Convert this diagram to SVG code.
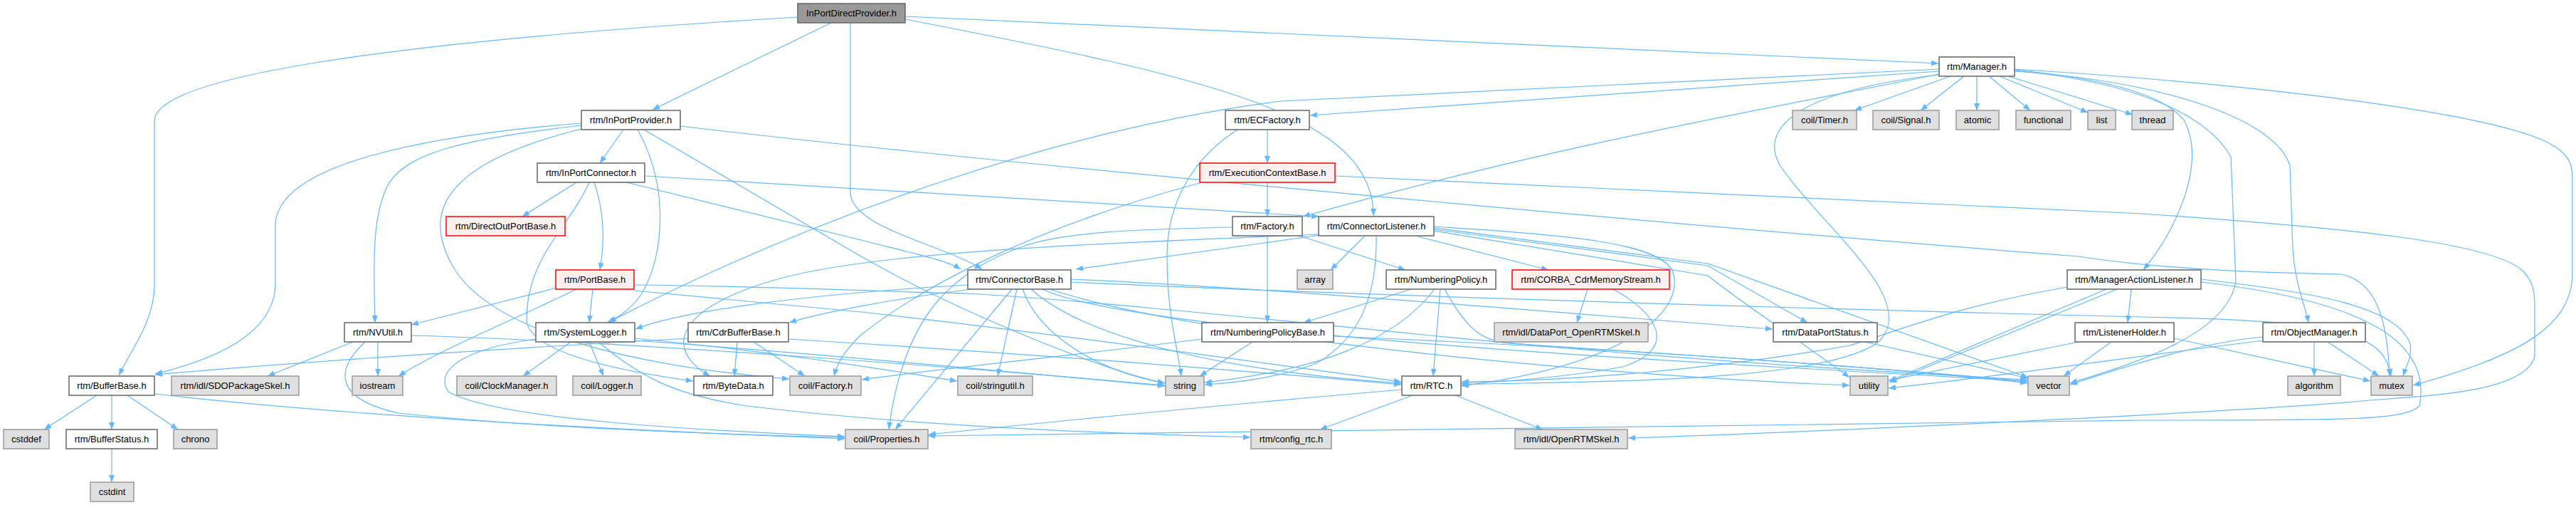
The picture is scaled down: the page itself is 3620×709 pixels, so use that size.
<svg xmlns="http://www.w3.org/2000/svg" width="3620" height="709" viewBox="0 0 3620 709">
<style>
.n rect{fill:#ffffff;stroke:#666666;stroke-width:1.5}
.g rect{fill:#e0e0e0;stroke:#999999;stroke-width:1.5}
.r rect{fill:#fff0f0;stroke:#ff0000;stroke-width:1.5}
.root rect{fill:#999999;stroke:#666666;stroke-width:1.5}
text{font-family:"Liberation Sans",Arial,sans-serif;font-size:13px;text-anchor:middle;fill:#000}
#edges path{fill:none;stroke:#63b8ff;stroke-width:1.2;marker-end:url(#ah)}
</style>
<defs>
<marker id="ah" viewBox="0 0 10 8" refX="10" refY="4" markerWidth="11" markerHeight="8" markerUnits="userSpaceOnUse" orient="auto"><path d="M0,0 L10,4 L0,8 z" fill="#63b8ff"/></marker>
</defs>
<rect width="3620" height="709" fill="#ffffff"/>
<g id="edges">
<path d="M1121,24 C520,60 217,110 217,170 L217,400 C217,450 185,490 167,527"/>
<path d="M1168,32 L917,154"/>
<path d="M1195,32 L1195,270 C1195,320 1330,345 1380,378"/>
<path d="M1272,27 C1700,110 1930,160 1930,303"/>
<path d="M1272,23 L2724,89"/>
<path d="M2725,100 L1841,162"/>
<path d="M2725,104 C2500,150 2200,200 1831,304"/>
<path d="M2725,97 L1800,142 C1500,180 1150,300 856,452"/>
<path d="M2725,105 C2550,125 2470,170 2500,230 C2560,320 2700,420 2640,480 C2560,540 2200,535 2054,540"/>
<path d="M2741,107 L2606,155"/>
<path d="M2760,107 L2699,155"/>
<path d="M2778,107 L2778,155"/>
<path d="M2795,107 L2853,155"/>
<path d="M2810,107 L2934,158"/>
<path d="M2822,107 L2997,161"/>
<path d="M2831,98 C2950,110 3040,130 3070,170 C3100,230 3060,320 3012,379"/>
<path d="M2831,100 C3050,115 3200,170 3218,233 L3222,350 C3225,400 3240,430 3244,453"/>
<path d="M2831,97 C3200,120 3500,160 3580,200 C3610,215 3615,230 3615,250 L3615,390 C3610,460 3540,500 3391,541"/>
<path d="M2831,99 C3000,115 3100,160 3135,220 L3142,395 C3130,470 3000,510 2909,538"/>
<path d="M817,173 C600,190 390,230 387,315 L387,400 C385,470 300,505 218,525"/>
<path d="M817,176 C650,195 570,215 545,260 C525,300 524,350 527,453"/>
<path d="M817,181 C620,230 590,300 640,380 C700,470 900,515 1109,532"/>
<path d="M896,182 C940,260 935,360 900,415 C885,435 870,445 853,453"/>
<path d="M905,182 L1210,360 C1350,440 1550,520 1637,538"/>
<path d="M956,177 C1400,230 2400,320 2921,360 C3050,380 3200,383 3290,385 C3340,395 3355,450 3358,528"/>
<path d="M876,182 L843,229"/>
<path d="M1781,182 L1781,229"/>
<path d="M1739,182 C1680,220 1640,280 1640,360 C1640,440 1655,490 1660,528"/>
<path d="M1781,256 L1781,304"/>
<path d="M1686,257 C1450,320 1300,400 1210,470 C1190,490 1178,505 1172,528"/>
<path d="M1876,247 L3010,300 C3300,320 3500,340 3545,380 C3560,395 3562,410 3562,430 L3562,500 C3550,550 3420,555 3330,562 C3200,575 2600,605 2288,615"/>
<path d="M810,256 L734,304"/>
<path d="M835,256 C850,300 850,340 843,379"/>
<path d="M880,256 L1210,337 C1280,355 1330,365 1350,378"/>
<path d="M828,256 C800,320 740,360 740,450 C745,500 900,525 974,535"/>
<path d="M906,247 L1853,304"/>
<path d="M1826,331 L1975,379"/>
<path d="M1781,331 L1781,453"/>
<path d="M1733,319 C1600,322 1500,325 1440,345 C1340,380 1270,440 1249,603"/>
<path d="M1918,331 L1870,379"/>
<path d="M1989,331 L2176,379"/>
<path d="M1855,330 L1512,378"/>
<path d="M1854,329 C1600,340 1250,350 1100,390 C950,430 930,490 998,528"/>
<path d="M1934,331 C1935,400 1920,470 1850,510 C1800,530 1740,537 1693,540"/>
<path d="M2015,318 C2200,330 2330,340 2350,380 C2370,430 2300,510 2054,542"/>
<path d="M2015,320 L2400,370 L2850,530"/>
<path d="M2015,322 L2400,373 L2540,453"/>
<path d="M2015,324 L2400,387 C2440,420 2560,500 2599,530"/>
<path d="M833,406 L828,453"/>
<path d="M783,404 C700,425 640,440 578,456"/>
<path d="M810,406 C720,450 620,490 560,528"/>
<path d="M891,400 C1100,402 1250,410 1360,412 C1500,420 1700,440 2000,470 C2300,500 2600,520 2849,533"/>
<path d="M891,408 L1210,438 C1500,470 1850,520 1969,536"/>
<path d="M1360,400 C1100,415 950,440 893,462"/>
<path d="M1365,406 C1250,420 1150,440 1109,453"/>
<path d="M1422,406 L1258,603"/>
<path d="M1429,406 L1402,528"/>
<path d="M1437,406 C1460,470 1540,520 1637,538"/>
<path d="M1449,406 C1520,470 1700,520 1969,538"/>
<path d="M1465,406 C1600,470 2400,510 2849,535"/>
<path d="M1475,406 C1700,480 2300,530 2599,541"/>
<path d="M1505,392 C1800,405 2200,440 2491,462"/>
<path d="M1505,396 C1800,410 2400,430 3010,445 C3300,450 3350,470 3360,528"/>
<path d="M1983,406 L1832,453"/>
<path d="M2024,406 L2014,528"/>
<path d="M2016,406 C1960,480 1850,520 1693,537"/>
<path d="M2030,406 C2060,460 2080,478 2120,482 C2400,500 2700,520 2849,536"/>
<path d="M2231,406 L2216,453"/>
<path d="M2267,406 C2330,440 2360,490 2280,515 C2200,530 2100,537 2054,538"/>
<path d="M2995,406 L2990,453"/>
<path d="M2960,406 L2655,535"/>
<path d="M2975,406 L2655,537"/>
<path d="M2905,403 C2750,430 2680,460 2600,485 C2400,520 2200,535 2054,536"/>
<path d="M3093,392 C3250,410 3370,430 3387,483 C3390,500 3382,512 3377,528"/>
<path d="M3093,396 C3300,420 3420,470 3400,570 C3380,590 3300,590 3010,590 C2600,595 2200,600 1304,612"/>
<path d="M496,480 L376,528"/>
<path d="M531,480 L531,528"/>
<path d="M513,480 C470,520 470,560 560,580 C750,600 1000,610 1187,614"/>
<path d="M578,471 C900,480 1400,520 1637,541"/>
<path d="M802,480 L735,528"/>
<path d="M828,480 L848,528"/>
<path d="M841,480 C900,530 950,555 1050,570 C1300,600 1600,610 1757,614"/>
<path d="M753,476 C650,490 610,520 630,550 C700,590 1000,605 1187,613"/>
<path d="M892,475 C1100,495 1250,520 1345,535"/>
<path d="M892,478 C1200,500 1500,530 1637,542"/>
<path d="M967,475 C700,490 400,510 218,526"/>
<path d="M1036,480 L1032,528"/>
<path d="M1059,480 L1131,528"/>
<path d="M1108,476 C1500,500 1800,525 1969,540"/>
<path d="M1689,476 C1500,500 1300,520 1211,533"/>
<path d="M1760,480 L1686,528"/>
<path d="M1874,472 C2300,490 2700,520 2849,538"/>
<path d="M2620,480 L2850,531"/>
<path d="M2967,480 L2900,528"/>
<path d="M2921,480 L2654,534"/>
<path d="M3055,475 L3331,535"/>
<path d="M3252,480 L3252,528"/>
<path d="M3271,480 L3343,528"/>
<path d="M3180,473 C3100,480 3000,510 2909,540"/>
<path d="M3182,478 C3000,500 2800,530 2654,545"/>
<path d="M136,555 L62,603"/>
<path d="M157,555 L157,603"/>
<path d="M179,555 L250,603"/>
<path d="M217,553 C500,585 900,605 1187,616"/>
<path d="M157,630 L157,677"/>
<path d="M1985,555 L1855,603"/>
<path d="M2045,555 L2168,603"/>
<path d="M1970,547 C1700,570 1450,595 1305,610"/>
</g>
<g id="n_root" class="root"><rect x="1121" y="5" width="151" height="27"/><text x="1196.5" y="23">InPortDirectProvider.h</text></g>
<g id="n_manager" class="n"><rect x="2725" y="80" width="106" height="27"/><text x="2778" y="98">rtm/Manager.h</text></g>
<g id="n_inportprovider" class="n"><rect x="817" y="155" width="139" height="27"/><text x="886.5" y="173">rtm/InPortProvider.h</text></g>
<g id="n_ecfactory" class="n"><rect x="1722" y="155" width="118" height="27"/><text x="1781" y="173">rtm/ECFactory.h</text></g>
<g id="n_timer" class="g"><rect x="2519" y="155" width="90" height="27"/><text x="2564" y="173">coil/Timer.h</text></g>
<g id="n_signal" class="g"><rect x="2632" y="155" width="93" height="27"/><text x="2678.5" y="173">coil/Signal.h</text></g>
<g id="n_atomic" class="g"><rect x="2749" y="155" width="60" height="27"/><text x="2779" y="173">atomic</text></g>
<g id="n_functional" class="g"><rect x="2833" y="155" width="77" height="27"/><text x="2871.5" y="173">functional</text></g>
<g id="n_list" class="g"><rect x="2934" y="155" width="39" height="27"/><text x="2953.5" y="173">list</text></g>
<g id="n_thread" class="g"><rect x="2996" y="155" width="58" height="27"/><text x="3025" y="173">thread</text></g>
<g id="n_inportconnector" class="n"><rect x="755" y="229" width="151" height="27"/><text x="830.5" y="247">rtm/InPortConnector.h</text></g>
<g id="n_ecbase" class="r"><rect x="1686" y="229" width="190" height="27"/><text x="1781" y="247">rtm/ExecutionContextBase.h</text></g>
<g id="n_directoutportbase" class="r"><rect x="627" y="304" width="167" height="27"/><text x="710.5" y="322">rtm/DirectOutPortBase.h</text></g>
<g id="n_factory" class="n"><rect x="1732" y="304" width="98" height="27"/><text x="1781" y="322">rtm/Factory.h</text></g>
<g id="n_connectorlistener" class="n"><rect x="1853" y="304" width="162" height="27"/><text x="1934" y="322">rtm/ConnectorListener.h</text></g>
<g id="n_portbase" class="r"><rect x="781" y="379" width="110" height="27"/><text x="836" y="397">rtm/PortBase.h</text></g>
<g id="n_connectorbase" class="n"><rect x="1360" y="379" width="145" height="27"/><text x="1432.5" y="397">rtm/ConnectorBase.h</text></g>
<g id="n_array" class="g"><rect x="1823" y="379" width="50" height="27"/><text x="1848" y="397">array</text></g>
<g id="n_numberingpolicy" class="n"><rect x="1948" y="379" width="154" height="27"/><text x="2025" y="397">rtm/NumberingPolicy.h</text></g>
<g id="n_corba" class="r"><rect x="2125" y="379" width="221" height="27"/><text x="2235.5" y="397">rtm/CORBA_CdrMemoryStream.h</text></g>
<g id="n_mal" class="n"><rect x="2905" y="379" width="188" height="27"/><text x="2999" y="397">rtm/ManagerActionListener.h</text></g>
<g id="n_nvutil" class="n"><rect x="484" y="453" width="94" height="27"/><text x="531" y="471">rtm/NVUtil.h</text></g>
<g id="n_systemlogger" class="n"><rect x="753" y="453" width="139" height="27"/><text x="822.5" y="471">rtm/SystemLogger.h</text></g>
<g id="n_cdrbufferbase" class="n"><rect x="967" y="453" width="141" height="27"/><text x="1037.5" y="471">rtm/CdrBufferBase.h</text></g>
<g id="n_npbase" class="n"><rect x="1689" y="453" width="185" height="27"/><text x="1781.5" y="471">rtm/NumberingPolicyBase.h</text></g>
<g id="n_dpskel" class="g"><rect x="2100" y="453" width="216" height="27"/><text x="2208" y="471">rtm/idl/DataPort_OpenRTMSkel.h</text></g>
<g id="n_dataportstatus" class="n"><rect x="2492" y="453" width="146" height="27"/><text x="2565" y="471">rtm/DataPortStatus.h</text></g>
<g id="n_listenerholder" class="n"><rect x="2916" y="453" width="139" height="27"/><text x="2985.5" y="471">rtm/ListenerHolder.h</text></g>
<g id="n_objectmanager" class="n"><rect x="3180" y="453" width="144" height="27"/><text x="3252" y="471">rtm/ObjectManager.h</text></g>
<g id="n_bufferbase" class="n"><rect x="97" y="528" width="120" height="27"/><text x="157" y="546">rtm/BufferBase.h</text></g>
<g id="n_sdoskel" class="g"><rect x="241" y="528" width="179" height="27"/><text x="330.5" y="546">rtm/idl/SDOPackageSkel.h</text></g>
<g id="n_iostream" class="g"><rect x="495" y="528" width="71" height="27"/><text x="530.5" y="546">iostream</text></g>
<g id="n_clockmanager" class="g"><rect x="642" y="528" width="140" height="27"/><text x="712" y="546">coil/ClockManager.h</text></g>
<g id="n_logger" class="g"><rect x="805" y="528" width="96" height="27"/><text x="853" y="546">coil/Logger.h</text></g>
<g id="n_bytedata" class="n"><rect x="975" y="528" width="111" height="27"/><text x="1030.5" y="546">rtm/ByteData.h</text></g>
<g id="n_coilfactory" class="g"><rect x="1110" y="528" width="100" height="27"/><text x="1160" y="546">coil/Factory.h</text></g>
<g id="n_stringutil" class="g"><rect x="1346" y="528" width="105" height="27"/><text x="1398.5" y="546">coil/stringutil.h</text></g>
<g id="n_string" class="g"><rect x="1638" y="528" width="54" height="27"/><text x="1665" y="546">string</text></g>
<g id="n_rtc" class="n"><rect x="1970" y="528" width="83" height="27"/><text x="2011.5" y="546">rtm/RTC.h</text></g>
<g id="n_utility" class="g"><rect x="2600" y="528" width="53" height="27"/><text x="2626.5" y="546">utility</text></g>
<g id="n_vector" class="g"><rect x="2850" y="528" width="58" height="27"/><text x="2879" y="546">vector</text></g>
<g id="n_algorithm" class="g"><rect x="3215" y="528" width="74" height="27"/><text x="3252" y="546">algorithm</text></g>
<g id="n_mutex" class="g"><rect x="3332" y="528" width="58" height="27"/><text x="3361" y="546">mutex</text></g>
<g id="n_cstddef" class="g"><rect x="5" y="603" width="64" height="27"/><text x="37" y="621">cstddef</text></g>
<g id="n_bufferstatus" class="n"><rect x="93" y="603" width="128" height="27"/><text x="157" y="621">rtm/BufferStatus.h</text></g>
<g id="n_chrono" class="g"><rect x="244" y="603" width="61" height="27"/><text x="274.5" y="621">chrono</text></g>
<g id="n_properties" class="g"><rect x="1188" y="603" width="116" height="27"/><text x="1246" y="621">coil/Properties.h</text></g>
<g id="n_configrtc" class="g"><rect x="1758" y="603" width="113" height="27"/><text x="1814.5" y="621">rtm/config_rtc.h</text></g>
<g id="n_openrtmskel" class="g"><rect x="2129" y="603" width="158" height="27"/><text x="2208" y="621">rtm/idl/OpenRTMSkel.h</text></g>
<g id="n_cstdint" class="g"><rect x="127" y="677" width="61" height="27"/><text x="157.5" y="695">cstdint</text></g>
</svg>
